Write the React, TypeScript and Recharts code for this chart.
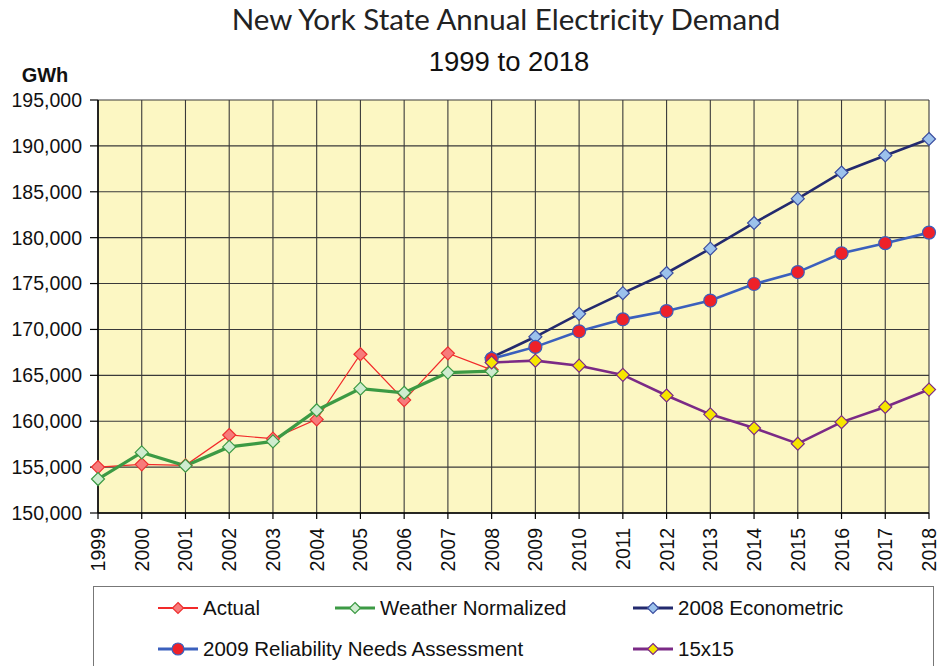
import React from 'react';
import {
  LineChart,
  Line,
  XAxis,
  YAxis,
  CartesianGrid,
  Legend,
} from 'recharts';

// Annual demand, GWh
const years = [
  '1999', '2000', '2001', '2002', '2003', '2004', '2005', '2006', '2007', '2008',
  '2009', '2010', '2011', '2012', '2013', '2014', '2015', '2016', '2017', '2018',
];
const actual = [155000, 155300, 155200, 158500, 158100, 160200, 167300, 162300, 167400, 165600];
const weatherNormalized = [153700, 156600, 155150, 157200, 157800, 161200, 163550, 163100, 165300, 165450];
// forecasts start in 2008
const econometric2008 = [166950, 169200, 171700, 173950, 176150, 178800, 181600, 184250, 187100, 188950, 190750];
const rna2009 = [166800, 168100, 169800, 171100, 172000, 173150, 174950, 176250, 178300, 179400, 180550];
const fifteenBy15 = [166400, 166600, 166050, 165050, 162800, 160750, 159250, 157550, 159900, 161550, 163450];
const yTicks = [150000, 155000, 160000, 165000, 170000, 175000, 180000, 185000, 190000, 195000];

const FORECAST_START = 9;

const chartData = years.map((year, i) => ({
  year,
  actual: actual[i],
  weather: weatherNormalized[i],
  econ: i >= FORECAST_START ? econometric2008[i - FORECAST_START] : undefined,
  rna: i >= FORECAST_START ? rna2009[i - FORECAST_START] : undefined,
  fifteen: i >= FORECAST_START ? fifteenBy15[i - FORECAST_START] : undefined,
}));

const series = [
  { key: 'actual', name: 'Actual', line: '#f22a2a', width: 1.2, fill: '#f77b7b', stroke: '#ee3030', shape: 'diamond' },
  { key: 'weather', name: 'Weather Normalized', line: '#3c9a44', width: 3.2, fill: '#cfeccf', stroke: '#3c9a44', shape: 'diamond' },
  { key: 'econ', name: '2008 Econometric', line: '#232a6e', width: 2.6, fill: '#9cc2ec', stroke: '#3b4ea0', shape: 'diamond' },
  { key: 'rna', name: '2009 Reliability Needs Assessment', line: '#3b60bd', width: 2.6, fill: '#ee2129', stroke: '#3b60bd', shape: 'circle' },
  { key: 'fifteen', name: '15x15', line: '#7b2a86', width: 2.6, fill: '#f6e600', stroke: '#7b2a86', shape: 'diamond' },
];

const FONT = 'Arial, "Liberation Sans", sans-serif';

function Marker({ cx, cy, shape, fill, stroke, size = 6.5 }: any) {
  if (cx == null || cy == null) return <g />;
  if (shape === 'circle') {
    return <circle cx={cx} cy={cy} r={size} fill={fill} stroke={stroke} strokeWidth={1.2} />;
  }
  const s = size;
  return (
    <polygon
      points={`${cx},${cy - s} ${cx + s},${cy} ${cx},${cy + s} ${cx - s},${cy}`}
      fill={fill}
      stroke={stroke}
      strokeWidth={1.2}
    />
  );
}

const XTick = ({ x, y, payload }: any) => (
  <text
    x={x}
    y={y}
    transform={`rotate(-90 ${x} ${y})`}
    textAnchor="end"
    dy="0.36em"
    fontSize={19.5}
    fontFamily={FONT}
    fill="#111"
  >
    {payload.value}
  </text>
);

const LegendBox = () => {
  const item = (s: any, left: number, top: number) => (
    <div key={s.key} style={{ position: 'absolute', left, top, display: 'flex', alignItems: 'center' }}>
      <svg width={42} height={20} style={{ display: 'block' }}>
        <line x1={1} y1={10} x2={41} y2={10} stroke={s.line} strokeWidth={s.key === 'actual' ? 2 : 3} />
        <Marker cx={21} cy={10} shape={s.shape} fill={s.fill} stroke={s.stroke} size={s.shape === 'circle' ? 6 : 5.5} />
      </svg>
      <span style={{ marginLeft: 4, fontSize: 20.5, fontFamily: FONT, color: '#111', whiteSpace: 'nowrap' }}>
        {s.name}
      </span>
    </div>
  );
  return (
    <div
      style={{
        position: 'relative',
        width: 841,
        height: 80,
        borderTop: '1.5px solid #777',
        borderLeft: '1.5px solid #777',
        borderRight: '1.5px solid #777',
        boxSizing: 'border-box',
        background: '#fff',
      }}
    >
      {item(series[0], 63, 9)}
      {item(series[1], 240, 9)}
      {item(series[2], 538, 9)}
      {item(series[3], 63, 50)}
      {item(series[4], 538, 50)}
    </div>
  );
};

export default function App() {
  return (
    <div style={{ position: 'absolute', left: 0, top: 0, width: 941, height: 666, background: '#fff', overflow: 'hidden' }}>
      <LineChart
        width={941}
        height={666}
        data={chartData}
        margin={{ top: 100, right: 12, left: 8, bottom: 83 }}
      >
        <CartesianGrid stroke="#3a3a3a" strokeWidth={1.1} fill="#fcf7c3" />
        <XAxis
          dataKey="year"
          interval={0}
          height={70}
          tick={<XTick />}
          tickSize={6}
          tickMargin={9}
          axisLine={{ stroke: '#000', strokeWidth: 1.5 }}
          tickLine={{ stroke: '#000', strokeWidth: 1.2 }}
        />
        <YAxis
          width={90}
          domain={[150000, 195000]}
          ticks={yTicks}
          interval={0}
          tickFormatter={(v: number) => v.toLocaleString('en-US')}
          tick={{ fill: '#111', fontSize: 19.5, fontFamily: FONT }}
          tickSize={8}
          tickMargin={8}
          axisLine={{ stroke: '#000', strokeWidth: 1.5 }}
          tickLine={{ stroke: '#000', strokeWidth: 1.2 }}
        />
        <Legend
          layout="horizontal"
          verticalAlign="middle"
          align="center"
          wrapperStyle={{ left: 93, top: 586, width: 841, height: 80 }}
          content={() => <LegendBox />}
        />
        {series.map((s) => (
          <Line
            key={s.key}
            type="linear"
            dataKey={s.key}
            name={s.name}
            stroke={s.line}
            strokeWidth={s.width}
            connectNulls={false}
            isAnimationActive={false}
            activeDot={false}
            dot={(p: any) => (
              <Marker key={`${s.key}-${p.index}`} cx={p.cx} cy={p.cy} shape={s.shape} fill={s.fill} stroke={s.stroke} />
            )}
          />
        ))}
      </LineChart>
      <svg width={941} height={100} style={{ position: 'absolute', left: 0, top: 0, pointerEvents: 'none' }}>
        <text x={506} y={30} textAnchor="middle" fontSize={29.5} fontFamily="Lato, 'Open Sans', sans-serif" fill="#222">
          New York State Annual Electricity Demand
        </text>
        <text x={509} y={71} textAnchor="middle" fontSize={27.5} fontFamily={FONT} fill="#111">
          1999 to 2018
        </text>
        <text x={45} y={82} textAnchor="middle" fontSize={20} fontWeight="bold" fontFamily={FONT} fill="#111">
          GWh
        </text>
      </svg>
    </div>
  );
}
